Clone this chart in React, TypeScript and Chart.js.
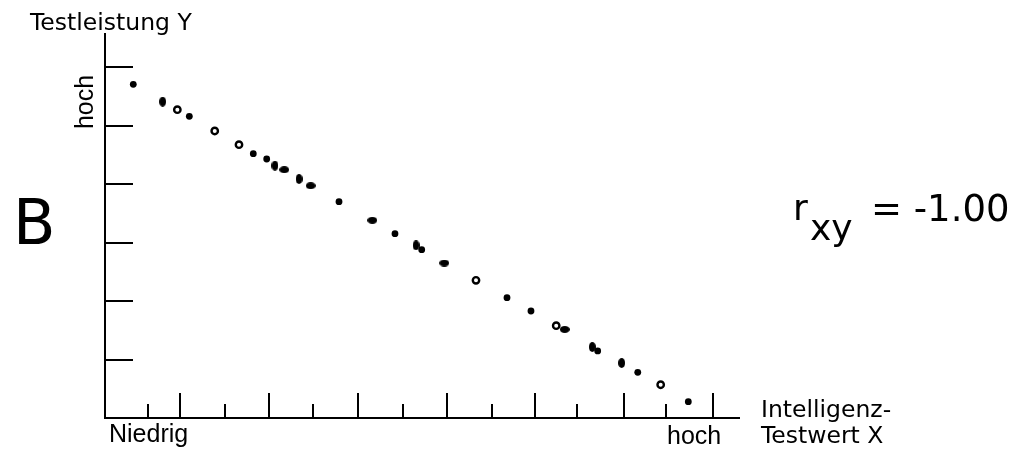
import { useEffect, useRef } from "react";
import { Chart, registerables } from "chart.js";

Chart.register(...registerables);

// Scatter values (Intelligenz-Testwert X, Testleistung Y) in axis units
const filledX = [0.474, 1.105, 1.825, 1.976, 2.79, 3.42, 3.721, 4.681, 4.951, 5.702, 6.153, 6.722];
const filledY = [5.705, 5.159, 4.52, 4.43, 3.701, 3.155, 2.882, 2.063, 1.836, 1.154, 0.79, 0.288];

const openX = [0.97, 1.391, 1.664, 4.332, 5.235, 6.411];
const openY = [5.271, 4.908, 4.674, 2.36, 1.585, 0.578];

const wideX = [2.174, 2.471, 3.165, 3.975, 5.331];
const wideY = [4.247, 3.974, 3.384, 2.655, 1.522];

const tallX = [0.805, 2.069, 2.34, 3.657, 5.641, 5.972];
const tallY = [5.408, 4.316, 4.089, 2.957, 1.222, 0.949];

// Axis tick positions
const xMajorTicks = [1, 2, 3, 4, 5, 6, 7];
const xMinorTicks = [0.64, 1.51, 2.5, 3.51, 4.51, 5.47, 6.47];
const yTicks = [1, 2, 3, 4, 5, 6];

// Texts
const yTitle = "Testleistung Y";
const yHighLabel = "hoch";
const xLowLabel = "Niedrig";
const xHighLabel = "hoch";
const xTitleLines = ["Intelligenz-", "Testwert X"];
const panelLetter = "B";
const corrSymbol = "r";
const corrSub = "xy";
const corrValue = "= -1.00";

const zip = (xs: number[], ys: number[]) => xs.map((x, i) => ({ x, y: ys[i] }));

function makeEllipse(w: number, h: number): HTMLCanvasElement {
  const c = document.createElement("canvas");
  c.width = w;
  c.height = h;
  const ctx = c.getContext("2d")!;
  ctx.fillStyle = "#000";
  ctx.beginPath();
  ctx.ellipse(w / 2, h / 2, w / 2, h / 2, 0, 0, Math.PI * 2);
  ctx.fill();
  return c;
}

const tickPlugin = {
  id: "inwardTicks",
  afterDatasetsDraw(chart: any) {
    const { ctx, scales } = chart;
    const xs = scales.x;
    const ys = scales.y;
    const base = ys.getPixelForValue(ys.min);
    const left = xs.getPixelForValue(xs.min);
    ctx.save();
    ctx.strokeStyle = "#000";
    ctx.lineWidth = 2;
    ctx.lineCap = "butt";
    const line = (x1: number, y1: number, x2: number, y2: number) => {
      ctx.beginPath();
      ctx.moveTo(x1, y1);
      ctx.lineTo(x2, y2);
      ctx.stroke();
    };
    xMajorTicks.forEach((v) => {
      const px = Math.round(xs.getPixelForValue(v));
      line(px, base, px, base - 25);
    });
    xMinorTicks.forEach((v) => {
      const px = Math.round(xs.getPixelForValue(v));
      line(px, base, px, base - 14);
    });
    yTicks.forEach((v) => {
      const py = Math.round(ys.getPixelForValue(v));
      line(left, py, left + 28, py);
    });
    ctx.restore();
  },
};

const textPlugin = {
  id: "texts",
  afterDraw(chart: any) {
    const { ctx, chartArea } = chart;
    const L = chartArea.left;
    const T = chartArea.top;
    const R = chartArea.right;
    const B = chartArea.bottom;
    ctx.save();
    ctx.fillStyle = "#000";
    ctx.textBaseline = "alphabetic";
    ctx.textAlign = "left";

    ctx.font = '23.5px "DejaVu Sans"';
    ctx.fillText(yTitle, L - 75, T - 4);

    ctx.save();
    ctx.translate(L - 12, T + 68);
    ctx.rotate(-Math.PI / 2);
    ctx.font = '25px "Liberation Sans"';
    ctx.textAlign = "center";
    ctx.fillText(yHighLabel, 0, 0);
    ctx.restore();

    ctx.font = '25px "Liberation Sans"';
    ctx.fillText(xLowLabel, L + 4, B + 24);
    ctx.fillText(xHighLabel, R - 72, B + 26);

    ctx.font = '23.5px "DejaVu Sans"';
    ctx.fillText(xTitleLines[0], R + 22, B - 1);
    ctx.fillText(xTitleLines[1], R + 22, B + 25);

    ctx.font = '62px "DejaVu Sans"';
    ctx.fillText(panelLetter, 13, 244);

    ctx.font = '36px "DejaVu Sans"';
    ctx.fillText(corrSymbol, 793, 220);
    ctx.fillText(corrSub, 810, 240);
    ctx.font = '37px "DejaVu Sans"';
    ctx.fillText(corrValue, 871, 221);
    ctx.restore();
  },
};

export default function App() {
  const ref = useRef<HTMLCanvasElement | null>(null);

  useEffect(() => {
    document.body.style.margin = "0";
    const canvas = ref.current!;
    const wide = makeEllipse(10, 7);
    const tall = makeEllipse(7, 10);
    const chart = new Chart(canvas, {
      type: "scatter",
      data: {
        datasets: [
          {
            data: zip(filledX, filledY),
            pointStyle: "circle",
            pointRadius: 3.4,
            backgroundColor: "#000",
            borderWidth: 0,
          },
          {
            data: zip(openX, openY),
            pointStyle: "circle",
            pointRadius: 3.2,
            backgroundColor: "#fff",
            borderColor: "#000",
            borderWidth: 2.4,
          },
          {
            data: zip(wideX, wideY),
            pointStyle: wide,
            pointRadius: 5,
          },
          {
            data: zip(tallX, tallY),
            pointStyle: tall,
            pointRadius: 5,
          },
        ],
      },
      options: {
        responsive: false,
        animation: false,
        events: [],
        devicePixelRatio: 1,
        layout: { padding: { left: 105, top: 34, right: 277, bottom: 35 } },
        plugins: {
          legend: { display: false },
          tooltip: { enabled: false },
          title: { display: false },
        },
        scales: {
          x: {
            type: "linear",
            min: 0.1557,
            max: 7.2927,
            ticks: { display: false },
            grid: { display: false, drawTicks: false },
            border: { display: true, color: "#000", width: 2 },
          },
          y: {
            type: "linear",
            min: 0.0102,
            max: 6.563,
            ticks: { display: false },
            grid: { display: false, drawTicks: false },
            border: { display: true, color: "#000", width: 2 },
          },
        },
      },
      plugins: [tickPlugin, textPlugin],
    });
    return () => chart.destroy();
  }, []);

  return (
    <div style={{ position: "absolute", left: 0, top: 0, width: 1016, height: 453, background: "#fff" }}>
      <canvas ref={ref} width={1016} height={453} style={{ display: "block" }} />
    </div>
  );
}
